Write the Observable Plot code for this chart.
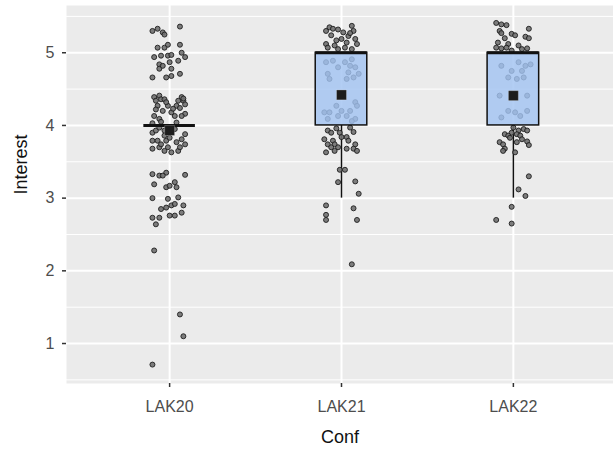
<!DOCTYPE html>
<html>
<head>
<meta charset="utf-8">
<script src="https://cdn.jsdelivr.net/npm/d3@7"></script>
<script src="https://cdn.jsdelivr.net/npm/@observablehq/plot@0.6"></script>
<style>
  html, body { margin: 0; padding: 0; background: #ffffff; }
  #chart { width: 613px; height: 455px; overflow: hidden; }
</style>
</head>
<body>
<div id="chart"></div>
<script>
// ---- Data ----
const categories = ["LAK20", "LAK21", "LAK22"];
const yTicks = [1, 2, 3, 4, 5];
const yMinorTicks = [0.5, 1.5, 2.5, 3.5, 4.5, 5.5];

// Box statistics per category
const q1 = [4, 4, 4];
const median = [4, 5, 5];
const q3 = [4, 5, 5];
const whiskerLow = [4, 3, 3];
const whiskerHigh = [4, 5, 5];
const means = [3.93, 4.42, 4.41];

// Jittered observations: [horizontal jitter (category units), Interest]
const lak20Points = [
  [-0.10,5.30],[-0.07,5.33],[-0.04,5.28],[-0.03,5.25],[0.06,5.36],
  [-0.07,5.07],[-0.03,5.07],[-0.01,5.11],[0.06,5.11],
  [-0.09,4.94],[-0.05,4.96],[-0.01,4.96],[0.01,4.97],[0.07,5.00],[0.09,4.94],[0.05,4.89],
  [-0.06,4.84],[-0.06,4.78],[-0.04,4.82],[0.00,4.87],[0.01,4.78],[0.01,4.68],[-0.02,4.66],[-0.10,4.66],[0.06,4.71],
  [-0.09,4.39],[-0.06,4.41],[-0.05,4.36],[-0.03,4.36],[-0.07,4.27],[-0.01,4.27],[-0.04,4.20],
  [0.05,4.34],[0.08,4.34],[0.09,4.29],[0.04,4.27],[0.09,4.16],[0.03,4.13],[0.07,4.13],[-0.09,4.13],
  [-0.06,4.09],[0.01,4.18],[-0.08,4.34],[0.07,4.39],[-0.02,4.32],[0.02,4.23],[-0.08,4.22],[0.06,4.24],
  [-0.05,4.05],[0.04,4.04],[0.08,4.37],[-0.10,4.03],
  [-0.10,3.90],[-0.08,3.93],[-0.03,3.93],[0.09,3.88],[0.03,3.95],
  [-0.10,3.79],[-0.07,3.79],[-0.02,3.79],[0.04,3.77],[0.09,3.74],
  [-0.10,3.68],[-0.06,3.70],[-0.03,3.65],[0.01,3.63],[0.05,3.65],[0.06,3.70],
  [-0.05,3.74],[-0.01,3.70],[-0.03,3.86],[0.07,3.81],[0.00,3.83],[-0.06,3.97],
  [-0.10,3.33],[-0.06,3.31],[-0.02,3.35],[0.09,3.32],[-0.09,3.19],[-0.02,3.15],[0.00,3.17],
  [0.03,3.22],[0.04,3.15],[-0.04,3.31],
  [-0.10,3.00],[-0.01,2.99],[0.05,3.01],[-0.05,2.85],[-0.02,2.87],[0.01,2.90],[0.03,2.92],
  [0.08,2.90],[0.07,2.80],[0.03,2.76],[-0.10,2.73],[-0.06,2.73],[-0.08,2.64],[0.00,2.76],
  [-0.09,2.28],[0.06,1.40],[0.08,1.10],[-0.10,0.71]
];
const lak21Points = [
  [-0.09,5.30],[-0.07,5.35],[-0.05,5.33],[-0.02,5.32],[0.01,5.28],[0.06,5.37],[0.07,5.30],
  [0.04,5.23],[0.00,5.19],[0.03,5.14],[0.08,5.19],[0.09,5.12],[-0.09,5.12],[-0.08,5.07],
  [-0.02,5.05],[0.06,5.05],[0.02,5.07],[-0.03,5.17],[-0.06,5.24],[0.05,5.27],[-0.04,5.10],
  [-0.09,4.87],[-0.05,4.89],[0.02,4.87],[0.06,4.91],[0.08,4.80],[-0.02,4.80],[-0.08,4.71],
  [0.04,4.73],[0.10,4.71],[0.03,4.64],[-0.07,4.64],[0.05,4.82],[0.07,4.66],
  [-0.03,4.27],[0.08,4.32],[0.09,4.27],[0.05,4.20],[-0.10,4.18],[-0.07,4.18],[0.00,4.20],
  [0.03,4.13],[0.08,4.09],[-0.02,4.13],[-0.08,4.09],[0.06,4.06],
  [-0.08,3.93],[-0.06,3.90],[-0.01,3.90],[0.07,3.91],[-0.10,3.81],[-0.05,3.79],[0.03,3.84],
  [0.04,3.79],[-0.08,3.74],[-0.04,3.74],[0.08,3.74],[-0.09,3.63],[-0.04,3.65],[-0.02,3.70],
  [0.03,3.68],[0.07,3.68],[0.09,3.65],[-0.06,3.70],[0.00,3.84],[-0.03,3.96],[0.05,3.97],
  [-0.01,3.39],[0.02,3.39],[-0.02,3.22],[0.08,3.23],[0.10,3.06],
  [-0.09,2.90],[-0.09,2.77],[-0.09,2.70],[0.07,2.86],[0.09,2.70],[0.06,2.09]
];
const lak22Points = [
  [-0.10,5.41],[-0.07,5.39],[-0.04,5.38],[-0.08,5.30],[-0.07,5.27],[-0.01,5.26],[0.01,5.24],
  [0.09,5.33],[0.07,5.22],[0.09,5.20],[-0.09,5.14],[-0.03,5.12],[-0.10,5.07],[-0.07,5.06],
  [-0.04,5.07],[0.05,5.05],[0.08,5.06],[-0.01,5.03],[0.03,5.10],[-0.05,5.20],
  [-0.07,4.82],[0.03,4.87],[0.07,4.82],[0.10,4.84],[-0.01,4.75],[0.05,4.75],[0.02,4.64],
  [0.06,4.66],[-0.03,4.66],[-0.08,4.41],[0.08,4.41],[-0.03,4.20],[0.01,4.18],[0.08,4.20],
  [-0.07,4.11],[0.04,4.13],
  [-0.05,3.88],[-0.01,3.90],[0.03,3.93],[0.06,3.95],[0.08,3.93],[-0.03,3.86],[0.02,3.88],
  [0.04,3.86],[-0.08,3.77],[-0.06,3.74],[0.02,3.77],[0.08,3.78],[0.09,3.73],[-0.05,3.68],
  [-0.06,3.65],[0.01,3.63],[0.05,3.81],[0.00,3.97],[-0.02,3.83],
  [0.09,3.30],[0.03,3.12],[0.07,3.03],[-0.01,2.88],[-0.10,2.70],[-0.01,2.65]
];
const pointsByCategory = [lak20Points, lak21Points, lak22Points];

// ---- Tables for the library ----
const points = pointsByCategory.flatMap((arr, i) =>
  arr.map(([jitter, interest]) => ({pos: i + 1 + jitter, interest})));
const boxes = categories.map((c, i) => ({
  pos: i + 1, q1: q1[i], median: median[i], q3: q3[i],
  lo: whiskerLow[i], hi: whiskerHigh[i], mean: means[i]
}));
const halfWidth = 0.15;

const font = "'Liberation Sans', Arial, sans-serif";

const chart = Plot.plot({
  width: 613,
  height: 455,
  marginLeft: 66,
  marginRight: 0,
  marginTop: 5,
  marginBottom: 72,
  style: {fontFamily: font, background: "#ffffff", overflow: "visible"},
  x: {type: "linear", domain: [0.4, 3.6], range: [66, 616]},
  y: {type: "linear", domain: [0.45, 5.65], range: [383, 5]},
  marks: [
    Plot.frame({fill: "#EBEBEB", stroke: null}),
    Plot.ruleY(yMinorTicks, {stroke: "#ffffff", strokeWidth: 1}),
    Plot.ruleY(yTicks, {stroke: "#ffffff", strokeWidth: 2}),
    Plot.ruleX([1, 2, 3], {stroke: "#ffffff", strokeWidth: 2}),
    // whiskers
    Plot.ruleX(boxes, {x: "pos", y1: "lo", y2: "q1", stroke: "#111", strokeWidth: 1.5}),
    Plot.ruleX(boxes, {x: "pos", y1: "q3", y2: "hi", stroke: "#111", strokeWidth: 1.5}),
    // jittered points
    Plot.dot(points, {x: "pos", y: "interest", r: 2.5, fill: "#707070", stroke: "#1e1e1e", strokeWidth: 0.9, fillOpacity: 0.9}),
    // boxes
    Plot.rect(boxes, {x1: d => d.pos - halfWidth, x2: d => d.pos + halfWidth, y1: "q1", y2: "q3",
      fill: "#a2c3f2", fillOpacity: 0.82, stroke: "#111", strokeWidth: 1.5}),
    // medians
    Plot.ruleY(boxes, {x1: d => d.pos - halfWidth, x2: d => d.pos + halfWidth, y: "median", stroke: "#111", strokeWidth: 3}),
    // means
    Plot.dot(boxes, {x: "pos", y: "mean", symbol: "square", r: 5.6, fill: "#1c1c1c", stroke: "#ffffff", strokeOpacity: 0.4, strokeWidth: 0.6}),
    // axes
    Plot.axisY(yTicks, {tickSize: 4, tickPadding: 8, fontSize: 16, fill: "#4D4D4D", stroke: "#333", strokeWidth: 1.5,
      tickFormat: d => String(d), label: null}),
    Plot.axisX([1, 2, 3], {tickSize: 4, tickPadding: 13, fontSize: 16, fill: "#4D4D4D", stroke: "#333", strokeWidth: 1.5,
      tickFormat: d => categories[d - 1], label: null}),
    Plot.text(["Interest"], {frameAnchor: "left", rotate: -90, dx: -45, fontSize: 18, fill: "#111", text: d => d}),
    Plot.text(["Conf"], {frameAnchor: "bottom", dy: 59, fontSize: 18, fill: "#111", text: d => d})
  ]
});
document.getElementById("chart").appendChild(chart);
</script>
</body>
</html>
